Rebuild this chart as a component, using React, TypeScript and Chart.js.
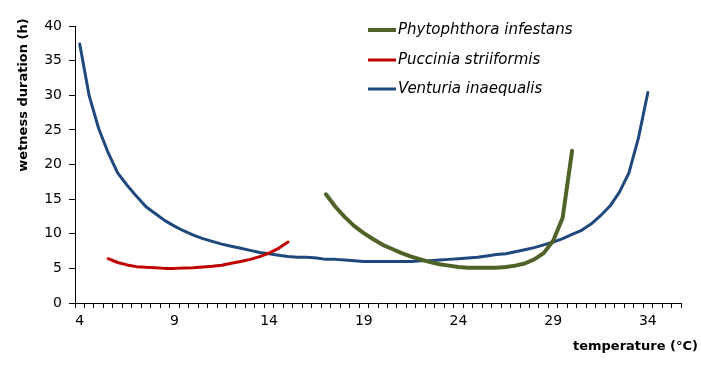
import React, { useEffect, useRef } from 'react';
import { Chart, registerables } from 'chart.js';

Chart.register(...registerables);

const FONT = '"DejaVu Sans", "Liberation Sans", sans-serif';

const seriesNames = ['Phytophthora infestans', 'Puccinia striiformis', 'Venturia inaequalis'];
const seriesColors = ['#4F6228', '#C00000', '#1F497D'];
const seriesWidths = [4, 3, 3];

const phytophthoraTemp = [17, 17.5, 18, 18.5, 19, 19.5, 20, 20.5, 21, 21.5, 22, 22.5, 23, 23.5, 24, 24.5, 25, 25.5, 26, 26.5, 27, 27.5, 28, 28.5, 29, 29.5, 30];
const phytophthoraHours = [15.7, 13.9, 12.4, 11.1, 10.1, 9.2, 8.4, 7.8, 7.2, 6.7, 6.3, 5.9, 5.6, 5.4, 5.2, 5.1, 5.1, 5.1, 5.1, 5.2, 5.4, 5.7, 6.3, 7.2, 9.0, 12.3, 22.0];

const pucciniaTemp = [5.5, 6, 6.5, 7, 7.5, 8, 8.5, 9, 9.5, 10, 10.5, 11, 11.5, 12, 12.5, 13, 13.5, 14, 14.5, 15];
const pucciniaHours = [6.4, 5.85, 5.5, 5.25, 5.15, 5.1, 5.0, 5.0, 5.05, 5.1, 5.2, 5.3, 5.45, 5.75, 6.0, 6.3, 6.7, 7.2, 7.9, 8.8];

const venturiaTemp = [4, 4.5, 5, 5.5, 6, 6.5, 7, 7.5, 8, 8.5, 9, 9.5, 10, 10.5, 11, 11.5, 12, 12.5, 13, 13.5, 14, 14.5, 15, 15.5, 16, 16.5, 17, 17.5, 18, 18.5, 19, 19.5, 20, 20.5, 21, 21.5, 22, 22.5, 23, 23.5, 24, 24.5, 25, 25.5, 26, 26.5, 27, 27.5, 28, 28.5, 29, 29.5, 30, 30.5, 31, 31.5, 32, 32.5, 33, 33.5, 34];
const venturiaHours = [37.4, 29.9, 25.2, 21.7, 18.8, 17.0, 15.4, 13.9, 12.9, 11.9, 11.1, 10.4, 9.8, 9.3, 8.9, 8.5, 8.2, 7.9, 7.6, 7.3, 7.1, 6.9, 6.7, 6.6, 6.6, 6.5, 6.3, 6.3, 6.2, 6.1, 6.0, 6.0, 6.0, 6.0, 6.0, 6.0, 6.1, 6.1, 6.2, 6.3, 6.4, 6.5, 6.6, 6.8, 7.0, 7.1, 7.4, 7.7, 8.0, 8.4, 8.8, 9.3, 9.9, 10.5, 11.4, 12.6, 14.0, 16.0, 18.8, 23.8, 30.4];

const xLabelTicks = [4, 9, 14, 19, 24, 29, 34];
const yTicks = [0, 5, 10, 15, 20, 25, 30, 35, 40];
const xTitle = 'temperature (°C)';
const yTitle = 'wetness duration (h)';

const X_MIN = 3.75;
const X_MAX = 35.75;

const xTickValues: number[] = [];
for (let v = X_MIN; v <= X_MAX + 1e-9; v += 0.25) xTickValues.push(v);

const isBoundary = (v: number) => Math.abs(((v - X_MIN) / 0.5) - Math.round((v - X_MIN) / 0.5)) < 1e-6;
const isLabel = (v: number) => xLabelTicks.some((t) => Math.abs(t - v) < 1e-6);

const pts = (xs: number[], ys: number[]) => xs.map((x, i) => ({ x, y: ys[i] }));

const overlayPlugin = {
  id: 'overlayTexts',
  afterDraw(chart: any) {
    const ctx = chart.ctx as CanvasRenderingContext2D;
    ctx.save();
    ctx.fillStyle = '#000';
    ctx.font = `bold 13px ${FONT}`;
    ctx.textAlign = 'center';
    ctx.textBaseline = 'middle';
    ctx.translate(23.5, 95);
    ctx.rotate(-Math.PI / 2);
    ctx.fillText(yTitle, 0, 0);
    ctx.restore();

    ctx.save();
    ctx.fillStyle = '#000';
    ctx.font = `bold 13px ${FONT}`;
    ctx.textAlign = 'right';
    ctx.textBaseline = 'middle';
    ctx.fillText(xTitle, 698, 347);
    ctx.restore();

    const rows = [30, 60, 89];
    chart.data.datasets.forEach((ds: any, i: number) => {
      const y = rows[i];
      ctx.save();
      ctx.strokeStyle = ds.borderColor;
      ctx.lineWidth = ds.borderWidth;
      ctx.lineCap = 'butt';
      ctx.beginPath();
      ctx.moveTo(368, y);
      ctx.lineTo(396, y);
      ctx.stroke();
      ctx.fillStyle = '#000';
      ctx.font = `italic 15px ${FONT}`;
      ctx.textAlign = 'left';
      ctx.textBaseline = 'middle';
      ctx.fillText(ds.label, 398, y);
      ctx.restore();
    });
  },
};

export default function App() {
  const ref = useRef<HTMLCanvasElement>(null);
  useEffect(() => {
    if (!ref.current) return;
    const datasets = [
      pts(phytophthoraTemp, phytophthoraHours),
      pts(pucciniaTemp, pucciniaHours),
      pts(venturiaTemp, venturiaHours),
    ].map((data, i) => ({
      label: seriesNames[i],
      data,
      borderColor: seriesColors[i],
      backgroundColor: seriesColors[i],
      borderWidth: seriesWidths[i],
      pointRadius: 0,
      tension: 0,
      borderCapStyle: 'round' as const,
      borderJoinStyle: 'round' as const,
      fill: false,
    }));
    const chart = new Chart(ref.current, {
      type: 'line',
      data: { datasets },
      options: {
        responsive: false,
        animation: false,
        layout: { padding: { left: 0, top: 26, right: 20, bottom: 0 } },
        plugins: { legend: { display: false }, tooltip: { enabled: false } },
        scales: {
          x: {
            type: 'linear',
            min: X_MIN,
            max: X_MAX,
            afterBuildTicks: (scale: any) => {
              scale.ticks = xTickValues.map((v) => ({ value: v }));
            },
            afterFit: (scale: any) => {
              scale.height = 66;
            },
            ticks: {
              autoSkip: false,
              maxRotation: 0,
              minRotation: 0,
              padding: 5,
              color: '#000',
              font: { family: FONT, size: 14 },
              callback: (v: any) => (isLabel(Number(v)) ? String(Math.round(Number(v))) : ''),
            },
            grid: {
              drawOnChartArea: false,
              tickLength: 5,
              tickWidth: 1,
              tickColor: (c: any) => (c.tick && isBoundary(c.tick.value) ? '#000' : 'rgba(0,0,0,0)'),
            },
            border: { color: '#000', width: 1 },
          },
          y: {
            type: 'linear',
            min: 0,
            max: 40,
            afterBuildTicks: (scale: any) => {
              scale.ticks = yTicks.map((v) => ({ value: v }));
            },
            afterFit: (scale: any) => {
              scale.width = 75;
            },
            ticks: {
              padding: 7,
              color: '#000',
              font: { family: FONT, size: 14 },
            },
            grid: { drawOnChartArea: false, tickLength: 6, color: '#000' },
            border: { color: '#000', width: 1 },
          },
        },
      },
      plugins: [overlayPlugin],
    });
    return () => chart.destroy();
  }, []);
  return (
    <div style={{ position: 'fixed', left: 0, top: 0, width: 701, height: 369, background: '#fff' }}>
      <canvas ref={ref} width={701} height={369} style={{ display: 'block' }} />
    </div>
  );
}
